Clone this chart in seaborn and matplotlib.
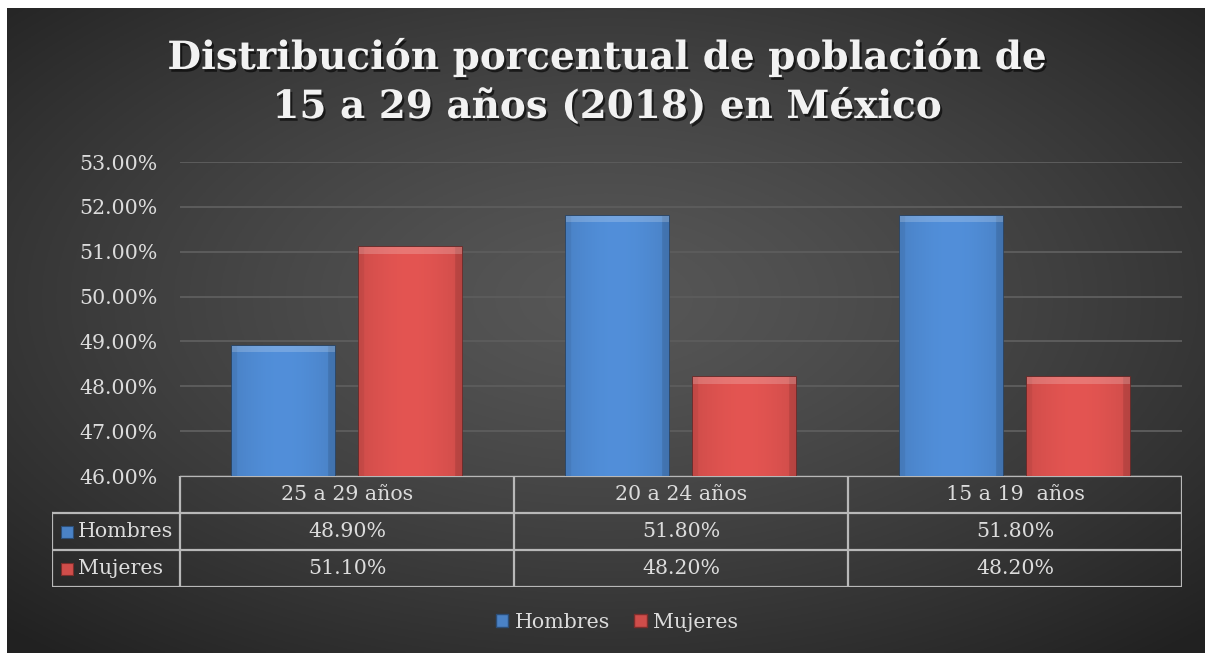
import numpy as np
import pandas as pd
import seaborn as sns
import matplotlib.pyplot as plt
import matplotlib.patheffects as pe
from matplotlib.colors import to_rgb
from matplotlib.patches import Rectangle

# data
categories = ["25 a 29 años", "20 a 24 años", "15 a 19  años"]
series = ["Hombres", "Mujeres"]
hombres = [48.9, 51.8, 51.8]
mujeres = [51.1, 48.2, 48.2]
yticks = [46, 47, 48, 49, 50, 51, 52, 53]

title_1 = "Distribución porcentual de población de"
title_2 = "15 a 29 años (2018) en México"

blue = "#4a82c6"
red = "#cf4d4a"
text_col = "#dcdcdc"
grid_col = "#5c5c5c"
line_col = "#b8b8b8"

df = pd.DataFrame({
    "grupo": categories * 2,
    "sexo": [series[0]] * 3 + [series[1]] * 3,
    "valor": hombres + mujeres,
})

sns.set_theme(style="white")
plt.rcParams["font.family"] = ["DejaVu Serif", "DejaVu Sans"]

W, H = 1205, 653
fig = plt.figure(figsize=(W / 100, H / 100), dpi=100)
fig.patch.set_facecolor("white")

# radial gradient background
bg = fig.add_axes([7 / W, 0, (W - 7) / W, (H - 8) / H], zorder=-10)
yy, xx = np.mgrid[0:1:300j, 0:1:500j]
r = np.sqrt(((xx - 0.5) / 0.75) ** 2 + ((yy - 0.55) / 0.75) ** 2)
v = np.clip(0.34 - 0.22 * r ** 1.3, 0.13, 0.34)
bg.imshow(np.dstack([v, v, v]), extent=(0, 1, 0, 1), aspect="auto", origin="lower")
bg.axis("off")

# main plot
px0, px1, py_top, py_bot = 180, 1182, 162, 476
ax = fig.add_axes([px0 / W, 1 - py_bot / H, (px1 - px0) / W, (py_bot - py_top) / H])
ax.set_facecolor("none")
sns.barplot(data=df, x="grupo", y="valor", hue="sexo", palette=[blue, red],
            width=0.76, gap=0.19, ax=ax, legend=False, saturation=1)
ax.set_ylim(46, 53)
ax.set_xlim(-0.5, 2.5)
ax.set_yticks(yticks)
ax.set_yticklabels([f"{t:.2f}%" for t in yticks], color=text_col, fontsize=14.8)
ax.set_xticks([])
ax.set_xlabel("")
ax.set_ylabel("")
ax.tick_params(axis="y", length=0, pad=16)
for s in ax.spines.values():
    s.set_visible(False)
ax.yaxis.grid(True, color=grid_col, lw=1.4)
ax.set_axisbelow(True)

# bevel-ish shading on bars
for p, col in zip(ax.patches, [blue] * 3 + [red] * 3):
    x0, w, top = p.get_x(), p.get_width(), p.get_height()
    base = np.array(to_rgb(col))
    p.set_edgecolor(base * 0.55)
    p.set_linewidth(1.2)
    cols = np.linspace(0, 1, 60)
    shade = 1.0 + 0.10 * np.sin(np.pi * cols) - 0.12 * (cols > 0.94) - 0.06 * (cols < 0.04)
    img = np.clip(base[None, None, :] * shade[None, :, None], 0, 1)
    img = np.repeat(img, 2, axis=0)
    im = ax.imshow(img, extent=(x0, x0 + w, 46, top), aspect="auto", zorder=2.1)
    im.set_clip_path(p)
    ax.add_patch(Rectangle((x0, top - 0.14), w, 0.14, color="white", alpha=0.2,
                           lw=0, zorder=2.2, clip_path=p))

# data table
lw_units = (px0 - 52) / ((px1 - px0) / 3)
tax = fig.add_axes([52 / W, 1 - 587 / H, (px1 - 52) / W, (587 - py_bot) / H])
tax.set_xlim(-0.5 - lw_units, 2.5)
tax.set_ylim(3, 0)
tax.axis("off")
xl = -0.5 - lw_units
kw = dict(color=line_col, lw=1.6, solid_capstyle="projecting")
tax.plot([-0.5, 2.5], [0, 0], **kw)
for yv in [1, 2, 3]:
    tax.plot([xl, 2.5], [yv, yv], **kw)
for xv in [-0.5, 0.5, 1.5, 2.5]:
    tax.plot([xv, xv], [0, 3], **kw)
tax.plot([xl, xl], [1, 3], **kw)

for i, c in enumerate(categories):
    tax.text(i, 0.5, c, ha="center", va="center", color=text_col, fontsize=14.8)
for row, (name, vals, col) in enumerate(zip(series, [hombres, mujeres], [blue, red]), start=1):
    tax.scatter([xl + 0.045], [row + 0.5], marker="s", s=75, color=col,
                edgecolors=np.array(to_rgb(col)) * 0.6, lw=0.8, clip_on=False)
    tax.text(xl + 0.078, row + 0.5, name, ha="left", va="center", color=text_col, fontsize=14.8)
    for i, v in enumerate(vals):
        tax.text(i, row + 0.5, f"{v:.2f}%", ha="center", va="center", color=text_col, fontsize=14.8)

# legend
handles = [Rectangle((0, 0), 1, 1, facecolor=c, edgecolor=np.array(to_rgb(c)) * 0.6)
           for c in [blue, red]]
leg = fig.legend(handles, series, loc="center", bbox_to_anchor=(0.512, 1 - 622 / H), ncol=2,
                 frameon=False, handlelength=0.6, handleheight=0.6, handletextpad=0.3,
                 columnspacing=1.2, fontsize=14.8)
for t in leg.get_texts():
    t.set_color(text_col)

# title
shadow = [pe.SimplePatchShadow(offset=(1.5, -2), shadow_rgbFace="black", alpha=0.6), pe.Normal()]
for txt, yb in [(title_1, 69), (title_2, 118)]:
    fig.text(0.504, 1 - yb / H, txt, ha="center", va="baseline", color="#f2f2f2",
             fontsize=28, fontweight="bold", path_effects=shadow)

fig.savefig("out.png", dpi=100, facecolor=fig.get_facecolor())
plt.close(fig)
